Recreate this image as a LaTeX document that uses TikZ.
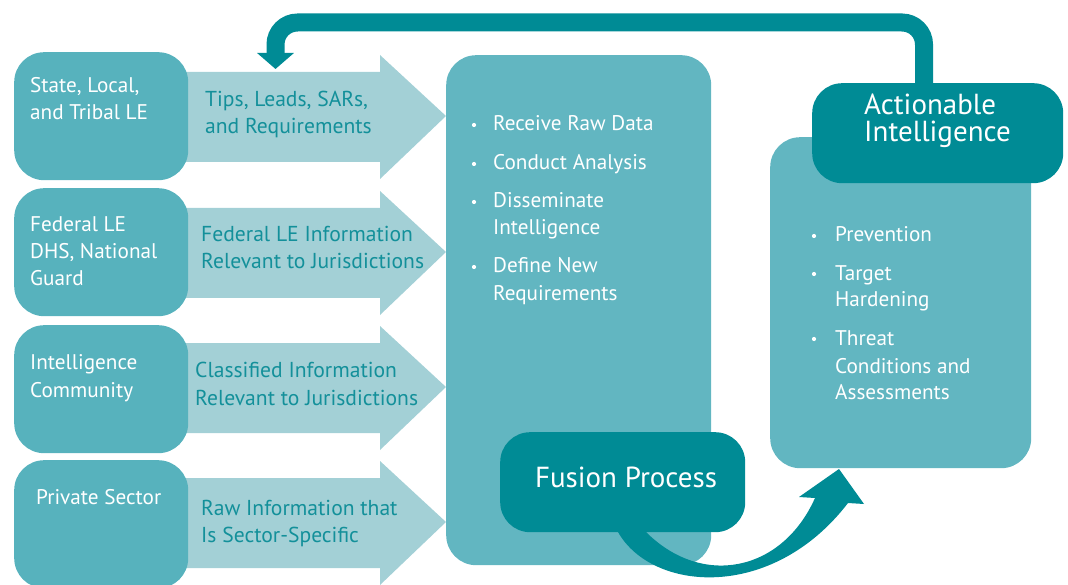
\documentclass[tikz,border=0pt]{standalone}
\usepackage{fontspec}
\setmainfont{PT Sans}
\usetikzlibrary{arrows.meta}
\definecolor{boxA}{HTML}{57B2BD}
\definecolor{boxB}{HTML}{62B6C1}
\definecolor{lightarr}{HTML}{A3D0D6}
\definecolor{darkteal}{HTML}{008B95}
\definecolor{arrtext}{HTML}{13909A}
\begin{document}
\begin{tikzpicture}[x=1pt,y=-1pt,
  srcbox/.style={fill=boxA, rounded corners=30pt, inner sep=0pt, anchor=north west, minimum width=174pt, minimum height=128pt},
  bigbox/.style={fill=boxB, rounded corners=30pt, inner sep=0pt, anchor=north west},
  darkbox/.style={fill=darkteal, rounded corners=30pt, inner sep=0pt, anchor=north west},
  wtxt/.style={text=white, font=\fontsize{21.2}{24}\selectfont, inner sep=0pt, anchor=base west},
  atxt/.style={text=arrtext, font=\fontsize{21.6}{24}\selectfont, inner sep=0pt, anchor=base west},
  btxt/.style={text=white, font=\fontsize{29}{32}\selectfont, inner sep=0pt, anchor=base west},
  dot/.style={circle, fill=white, inner sep=0pt, minimum size=4.2pt}
]
\useasboundingbox (0,0) rectangle (1068,585);

% flow arrows (shapes)
\foreach \yy in {116,252,387,522}{
  \fill[lightarr] (180,\yy-44) -- (380,\yy-44) -- (380,\yy-61) -- (446,\yy) -- (380,\yy+63) -- (380,\yy+46) -- (180,\yy+46) -- cycle;
}

% source boxes
\node[srcbox] (s1) at (14,52) {};
\node[srcbox] (s2) at (14,188) {};
\node[srcbox] (s3) at (14,325) {};
\node[srcbox] (s4) at (14,460) {};

\node[wtxt] (s1a) at (30,93) {State, Local,};
\node[wtxt] (s1b) at (30,120) {and Tribal LE};
\node[wtxt] (s2a) at (30,232) {Federal LE};
\node[wtxt] (s2b) at (30,259) {DHS, National};
\node[wtxt] (s2c) at (30,286) {Guard};
\node[wtxt] (s3a) at (30,369) {Intelligence};
\node[wtxt] (s3b) at (30,397) {Community};
\node[wtxt] (s4a) at (36,504) {Private Sector};

\node[atxt] (a1a) at (205,107) {Tips, Leads, SARs,};
\node[atxt] (a1b) at (205,134) {and Requirements};
\node[atxt] (a2a) at (201,242) {Federal LE Information};
\node[atxt] (a2b) at (201,269) {Relevant to Jurisdictions};
\node[atxt] (a3a) at (195,377) {Classified Information};
\node[atxt] (a3b) at (195,405) {Relevant to Jurisdictions};
\node[atxt] (a4a) at (201,515) {Raw Information that};
\node[atxt] (a4b) at (201,542) {Is Sector-Specific};

% fusion center box
\node[bigbox, minimum width=265pt, minimum height=510pt] (mid) at (446,55) {};
\foreach \yy [count=\i] in {131,170,208,273}{
  \node[dot] (md\i) at (474,\yy-6) {};
}
\node[wtxt] (m1) at (493,131) {Receive Raw Data};
\node[wtxt] (m2) at (493,170) {Conduct Analysis};
\node[wtxt] (m3) at (493,208) {Disseminate};
\node[wtxt] (m4) at (493,235) {Intelligence};
\node[wtxt] (m5) at (493,273) {Define New};
\node[wtxt] (m6) at (493,301) {Requirements};

% outcome box
\node[bigbox, minimum width=261pt, minimum height=331pt] (out) at (770,137) {};
\foreach \yy [count=\i] in {242,280,345}{
  \node[dot] (od\i) at (814,\yy-6) {};
}
\node[wtxt] (o1) at (835,242) {Prevention};
\node[wtxt] (o2) at (835,280) {Target};
\node[wtxt] (o3) at (835,307) {Hardening};
\node[wtxt] (o4) at (835,345) {Threat};
\node[wtxt] (o5) at (835,373) {Conditions and};
\node[wtxt] (o6) at (835,399) {Assessments};

% feedback arrow
\coordinate (fbs) at (924,90);
\coordinate (fbe) at (275.5,69);
\draw[darkteal, line width=18pt, rounded corners=22pt,
      -{Triangle[width=36pt,length=16pt]}]
  (fbs) -- (924,22.5) -- (275.5,22.5) -- (fbe);

% actionable intelligence box
\node[darkbox, minimum width=251pt, minimum height=100pt] (ai) at (812,83) {};
\node[btxt] (ai1) at (864,115) {Actionable};
\node[btxt] (ai2) at (864,142) {Intelligence};

% curved fusion arrow
\fill[darkteal] (616,520) -- (618,532) .. controls (652,592) and (772,602) .. (848,503)
  -- (864,504) -- (839,469) -- (799,497) -- (815,498)
  .. controls (782,572) and (702,588) .. (646,532) -- (646,520) -- cycle;

% fusion process box
\node[darkbox, minimum width=245pt, minimum height=100pt] (fp) at (500,432) {};
\node[btxt, anchor=base] (fpt) at (626,487) {Fusion Process};
\end{tikzpicture}
\end{document}
